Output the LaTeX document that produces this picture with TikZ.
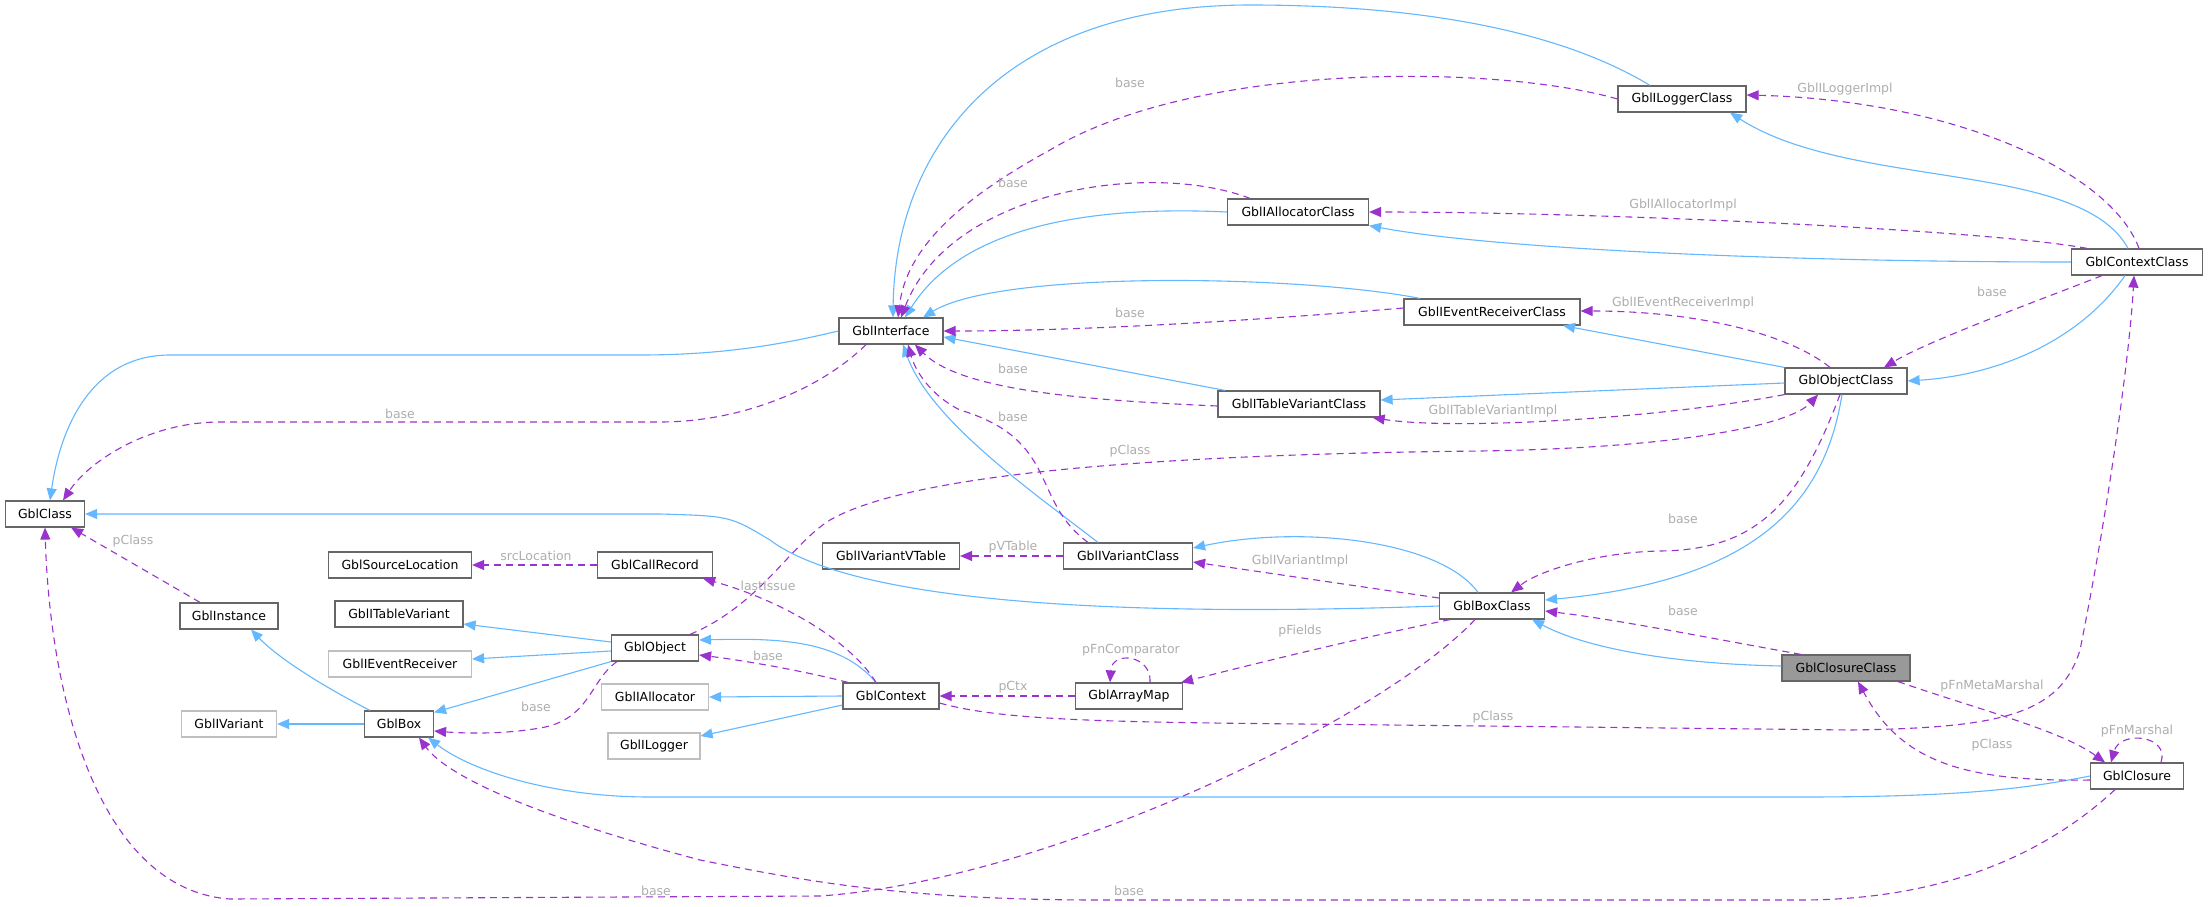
\documentclass[tikz,border=0pt]{standalone}
\usepackage{fontspec}
\setmainfont{DejaVu Sans}
\usetikzlibrary{arrows.meta}
\definecolor{eblue}{HTML}{63B8FF}
\definecolor{epurp}{HTML}{9A32CD}
\definecolor{lgray}{HTML}{AEAEAE}
\definecolor{nbord}{HTML}{666666}
\definecolor{gbord}{HTML}{BFBFBF}
\definecolor{cfill}{HTML}{999999}
\tikzset{
 nd/.style={draw=nbord,line width=1.2pt,fill=white,minimum height=26pt,inner sep=0pt,font=\fontsize{12.5}{14}\selectfont},
 gnd/.style={nd,draw=gbord},
 inh/.style={draw=eblue,line width=1.1pt,-{Triangle[length=12pt,width=10pt]}},
 use/.style={draw=epurp,line width=1.1pt,dash pattern=on 7pt off 5pt,-{Triangle[length=12pt,width=10pt]}},
 lbl/.style={text=lgray,font=\fontsize{12.5}{14}\selectfont,inner sep=1pt}
}
\begin{document}
\begin{tikzpicture}[x=1pt,y=-1pt]
\useasboundingbox[fill=white] (0,0) rectangle (2208,907);
% nodes
\node[nd,minimum width=79pt] (Gc) at (45,514) {GblClass};
\node[nd,minimum width=104pt] (If) at (891,331) {GblInterface};
\node[nd,minimum width=128pt] (ILC) at (1682,99) {GblILoggerClass};
\node[nd,minimum width=141pt] (IAC) at (1298,212) {GblIAllocatorClass};
\node[nd,minimum width=131pt] (CC) at (2137,262) {GblContextClass};
\node[nd,minimum width=176pt] (IERC) at (1492,312) {GblIEventReceiverClass};
\node[nd,minimum width=122pt] (OC) at (1846,381) {GblObjectClass};
\node[nd,minimum width=162pt] (ITVC) at (1299,404) {GblITableVariantClass};
\node[nd,minimum width=137pt] (IVVT) at (891,556) {GblIVariantVTable};
\node[nd,minimum width=129pt] (IVC) at (1128,556) {GblIVariantClass};
\node[nd,minimum width=143pt] (GSL) at (400,565) {GblSourceLocation};
\node[nd,minimum width=115pt] (GCR) at (655,565) {GblCallRecord};
\node[nd,minimum width=98pt] (GI) at (229,616) {GblInstance};
\node[nd,minimum width=128pt] (ITV) at (399,614) {GblITableVariant};
\node[gnd,minimum width=143pt] (GIER) at (400,664) {GblIEventReceiver};
\node[nd,minimum width=87pt] (GO) at (655,648) {GblObject};
\node[nd,minimum width=105pt] (BC) at (1492,606) {GblBoxClass};
\node[gnd,minimum width=107pt] (GIA) at (655,697) {GblIAllocator};
\node[nd,minimum width=96pt] (GC) at (891,696) {GblContext};
\node[nd,minimum width=107pt] (AM) at (1129,696) {GblArrayMap};
\node[gnd,minimum width=95pt] (GIV) at (229,724) {GblIVariant};
\node[nd,minimum width=69pt] (GB) at (399,724) {GblBox};
\node[gnd,minimum width=92pt] (GIL) at (654,746) {GblILogger};
\node[nd,fill=cfill,minimum width=128pt] (CLC) at (1846,668) {GblClosureClass};
\node[nd,minimum width=93pt] (CL) at (2137,776) {GblClosure};
% inheritance edges
\draw[inh] (If.west) .. controls (780,345) and (720,355) .. (640,355) -- (170,355) .. controls (90,355) and (60,430) .. ([xshift=5pt]Gc.north);
\draw[inh] (IAC.west) .. controls (1080,205) and (960,230) .. ([xshift=14pt]If.north);
\draw[inh] ([xshift=-32pt]ILC.north) .. controls (1550,25) and (1400,5) .. (1250,5) .. controls (1000,5) and (895,150) .. ([xshift=2pt]If.north);
\draw[inh] ([xshift=-72pt]IERC.north) .. controls (1300,275) and (1000,270) .. ([xshift=32pt]If.north);
\draw[inh] ([xshift=-74pt]ITVC.north) -- ([yshift=-6pt]If.east);
\draw[inh] ([xshift=-30pt]IVC.north) .. controls (1030,490) and (930,420) .. ([xshift=12pt]If.south);
\draw[inh] ([xshift=-9pt]CC.north) .. controls (2080,160) and (1850,190) .. ([xshift=48pt]ILC.south);
\draw[inh] (CC.west) .. controls (1800,262) and (1500,250) .. (IAC.south east);
\draw[inh] ([xshift=-12pt]CC.south) .. controls (2080,340) and (2000,375) .. (OC.east);
\draw[inh] (OC.north west) -- ([xshift=71pt]IERC.south);
\draw[inh] ([yshift=-2pt]OC.west) -- ([yshift=4pt]ITVC.east);
\draw[inh] ([xshift=-4pt]OC.south) .. controls (1825,500) and (1760,580) .. ([yshift=6pt]BC.east);
\draw[inh] (BC.west) .. controls (1100,618) and (850,600) .. (770,540) .. controls (730,516) .. (660,514) -- (Gc.east);
\draw[inh] ([xshift=-14pt]BC.north) .. controls (1440,540) and (1300,525) .. ([yshift=8pt]IVC.east);
\draw[inh] ([yshift=2pt]CLC.west) .. controls (1680,664) and (1590,650) .. ([xshift=40pt]BC.south);
\draw[inh] (CL.west) .. controls (2020,790) and (1950,797) .. (1800,797) -- (650,797) .. controls (550,797) and (470,770) .. ([xshift=-6pt]GB.south east);
\draw[inh] ([xshift=-29pt]GB.north) .. controls (330,690) and (280,660) .. ([xshift=22pt]GI.south);
\draw[inh] (GB.west) -- (GIV.east);
\draw[inh] ([yshift=6pt]GO.west) -- ([yshift=-10pt]ITV.east);
\draw[inh] ([yshift=-3pt]GO.west) -- ([yshift=5pt]GIER.east);
\draw[inh] (GO.south west) -- ([yshift=-2pt]GB.north east);
\draw[inh] ([xshift=-15pt]GC.north) .. controls (840,640) and (780,638) .. ([yshift=8pt]GO.east);
\draw[inh] (GC.west) -- (GIA.east);
\draw[inh] ([yshift=-9pt]GC.west) -- ([yshift=10pt]GIL.east);
% usage edges
\draw[use] (ILC.west) .. controls (1500,65) and (1200,60) .. (1050,150) .. controls (940,210) and (905,260) .. ([xshift=7pt]If.north);
\node[lbl] (la) at (1130,83) {base};
\draw[use] ([xshift=-48pt]IAC.north) .. controls (1150,160) and (950,190) .. ([xshift=10pt]If.north);
\node[lbl] (lb) at (1013,183) {base};
\draw[use] ([yshift=4pt]IERC.west) .. controls (1200,325) and (1050,331) .. (If.east);
\node[lbl] (lc) at (1130,313) {base};
\draw[use] ([yshift=-2pt]ITVC.west) .. controls (1080,400) and (960,390) .. ([xshift=24pt]If.south);
\node[lbl] (ld) at (1013,369) {base};
\draw[use] ([xshift=-40pt]IVC.north) .. controls (1030,500) and (1060,440) .. (960,410) .. controls (930,395) and (915,370) .. ([xshift=17pt]If.south);
\node[lbl] (le) at (1013,417) {base};
\draw[use] ([xshift=-25pt]If.south) .. controls (820,390) and (740,422) .. (660,422) -- (220,422) .. controls (150,422) and (90,460) .. ([xshift=18pt]Gc.north);
\node[lbl] (lf) at (400,414) {base};
\draw[use] ([xshift=2pt]CC.north) .. controls (2110,170) and (1950,100) .. ([yshift=4pt]ILC.east);
\node[lbl] (lg) at (1845,89) {GblILoggerImpl};
\draw[use] ([xshift=-50pt]CC.north) .. controls (1990,230) and (1600,212) .. (IAC.east);
\node[lbl] (lh) at (1683,205) {GblIAllocatorImpl};
\draw[use] ([xshift=-35pt]CC.south) .. controls (2040,300) and (1930,340) .. ([xshift=38pt]OC.north);
\node[lbl] (li) at (1992,292) {base};
\draw[use] ([xshift=-16pt]OC.north) .. controls (1790,335) and (1700,311) .. ([yshift=1pt]IERC.east);
\node[lbl] (lj) at (1683,303) {GblIEventReceiverImpl};
\draw[use] (OC.south west) .. controls (1650,420) and (1450,430) .. ([xshift=-8pt]ITVC.south east);
\node[lbl] (lk) at (1493,411) {GblITableVariantImpl};
\draw[use] ([xshift=35pt]GO.north) .. controls (760,605) and (790,545) .. (830,520) .. controls (900,480) and (1100,455) .. (1480,451) .. controls (1680,448) and (1790,425) .. ([xshift=-28pt]OC.south);
\node[lbl] (ll) at (1130,451) {pClass};
\draw[use] ([xshift=-6pt]OC.south) .. controls (1800,500) and (1760,550) .. (1660,551) .. controls (1600,552) and (1540,570) .. ([xshift=-34pt]BC.north east);
\node[lbl] (lm) at (1683,519) {base};
\draw[use] ([xshift=-45pt]CLC.north) .. controls (1720,640) and (1620,620) .. ([yshift=-5pt]BC.east);
\node[lbl] (ln) at (1683,611) {base};
\draw[use] ([yshift=8pt]BC.west) -- ([yshift=-6pt]IVC.east);
\node[lbl] (lo) at (1300,561) {GblIVariantImpl};
\draw[use] (IVC.west) -- (IVVT.east);
\node[lbl] (lp) at (1013,547) {pVTable};
\draw[use] ([xshift=-42pt]BC.south) .. controls (1350,640) and (1250,665) .. ([xshift=-2pt]AM.north east);
\node[lbl] (lq) at (1300,631) {pFields};
\draw[use] ([xshift=21pt]AM.north) .. controls (1152,655) and (1112,650) .. ([xshift=-19pt]AM.north);
\node[lbl] (lr) at (1131,650) {pFnComparator};
\draw[use] (AM.west) -- (GC.east);
\node[lbl] (ls) at (1013,687) {pCtx};
\draw[use] ([yshift=-7pt]GC.east) .. controls (1000,720) and (1100,722) .. (1300,724) -- (1850,730) .. controls (2000,728) and (2060,715) .. (2080,650) .. controls (2110,500) and (2130,350) .. ([xshift=-3pt]CC.south);
\node[lbl] (lt) at (1493,717) {pClass};
\draw[use] ([xshift=-43pt]GC.north) .. controls (800,670) and (740,660) .. ([yshift=-7pt]GO.east);
\node[lbl] (lu) at (768,656) {base};
\draw[use] ([xshift=-15pt]GC.north) .. controls (850,640) and (780,600) .. ([xshift=-10pt]GCR.south east);
\node[lbl] (lv) at (768,586) {lastIssue};
\draw[use] (GCR.west) -- (GSL.east);
\node[lbl] (lw) at (536,556) {srcLocation};
\draw[use] ([xshift=-29pt]GI.north) -- ([xshift=-14pt]Gc.south east);
\node[lbl] (lx) at (133,541) {pClass};
\draw[use] ([xshift=-38pt]GO.south) .. controls (590,680) and (590,720) .. (540,728) .. controls (500,735) and (460,733) .. ([yshift=-7pt]GB.east);
\node[lbl] (ly) at (536,707) {base};
\draw[use] ([xshift=52pt]CLC.south) .. controls (1980,710) and (2060,730) .. ([xshift=-32pt]CL.north);
\node[lbl] (lz) at (1992,686) {pFnMetaMarshal};
\draw[use] ([yshift=-4pt]CL.west) .. controls (1960,782) and (1900,760) .. ([xshift=12pt]CLC.south);
\node[lbl] (laa) at (1992,745) {pClass};
\draw[use] ([xshift=24pt]CL.north) .. controls (2170,735) and (2120,730) .. ([xshift=-26pt]CL.north);
\node[lbl] (lbb) at (2137,731) {pFnMarshal};
\draw[use] ([xshift=-17pt]BC.south) .. controls (1380,720) and (1050,880) .. (820,896) -- (230,899) .. controls (100,890) and (50,700) .. (Gc.south);
\node[lbl] (lcc) at (656,891) {base};
\draw[use] ([xshift=-22pt]CL.south) .. controls (2050,850) and (1950,900) .. (1800,900) -- (1100,900) .. controls (900,900) and (800,880) .. (700,860) .. controls (550,820) and (450,780) .. ([xshift=20pt]GB.south);
\node[lbl] (ldd) at (1129,891) {base};
\end{tikzpicture}
\end{document}
